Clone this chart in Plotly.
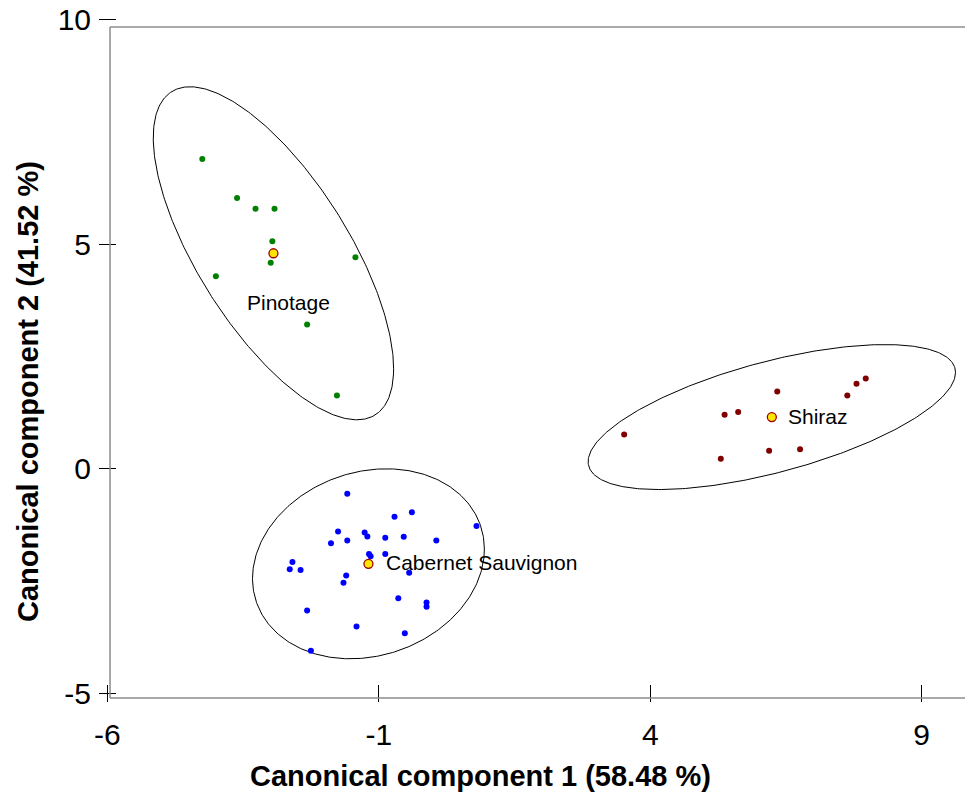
import numpy as np
import plotly.graph_objects as go

# ---------------- data ----------------
pinotage_x = [-4.25, -3.61, -3.27, -2.92, -2.96, -2.99, -4.00, -1.43, -2.32, -1.77]
pinotage_y = [6.90, 6.03, 5.79, 5.79, 5.07, 4.59, 4.29, 4.71, 3.21, 1.63]

shiraz_x = [3.52, 5.30, 5.37, 5.62, 6.34, 6.19, 6.76, 7.63, 7.80, 7.97]
shiraz_y = [0.76, 0.22, 1.20, 1.26, 1.72, 0.40, 0.43, 1.63, 1.89, 2.01]

cabernet_x = [-1.58, -0.39, -0.71, 0.80, -1.75, -1.26, -1.21, -1.58, -1.88, -0.88,
              -0.54, 0.06, -1.18, -1.15, -0.88, -2.59, -2.64, -2.44, -0.44, -1.60,
              -1.65, -0.64, -0.12, -0.12, -2.32, -1.41, -0.52, -2.25]
cabernet_y = [-0.56, -0.97, -1.07, -1.28, -1.40, -1.42, -1.51, -1.60, -1.66, -1.54,
              -1.52, -1.60, -1.90, -1.95, -1.90, -2.08, -2.24, -2.26, -2.32, -2.38,
              -2.54, -2.89, -2.98, -3.08, -3.16, -3.52, -3.67, -4.06]

group_names = ["Pinotage", "Shiraz", "Cabernet Sauvignon"]
centroid_x = [-2.94, 6.24, -1.19]
centroid_y = [4.80, 1.15, -2.12]
# ellipse shape matrices (sxx, syy, sxy) in data units
ellipse_sxx = [4.90, 11.45, 4.56]
ellipse_syy = [13.77, 2.61, 4.48]
ellipse_sxy = [-5.70, 3.36, 0.70]
label_x = [-2.66, 6.50, -0.91]
label_y = [3.70, 1.16, -2.09]
label_anchor = ["center", "left", "left"]

x_ticks = [-6, -1, 4, 9]
x_tick_text = ["-6", "-1", "4", "9"]
y_ticks = [-5, 0, 5, 10]
y_tick_text = ["-5", "0", "5", "10"]

x_title = "Canonical component 1 (58.48 %)"
y_title = "Canonical component 2 (41.52 %)"

FONT = "Liberation Sans, Arial, sans-serif"

W, H = 965, 794
ML, MR, MT, MB = 99, 0, 15, 92
PW, PH = W - ML - MR, H - MT - MB


def px_to_paper(px, py):
    return (px - ML) / PW, (H - MB - py) / PH


fig = go.Figure()

# ellipses
t = np.linspace(0, 2 * np.pi, 361)
for cx, cy, sxx, syy, sxy in zip(centroid_x, centroid_y, ellipse_sxx, ellipse_syy, ellipse_sxy):
    M = np.array([[sxx, sxy], [sxy, syy]])
    L = np.linalg.cholesky(M)
    pts = L @ np.vstack([np.cos(t), np.sin(t)])
    fig.add_trace(go.Scatter(x=cx + pts[0], y=cy + pts[1], mode="lines",
                             line=dict(color="black", width=1), showlegend=False,
                             hoverinfo="skip"))

# points
for xs, ys, col in [(pinotage_x, pinotage_y, "#008000"),
                    (shiraz_x, shiraz_y, "#800000"),
                    (cabernet_x, cabernet_y, "#0000FF")]:
    fig.add_trace(go.Scatter(x=xs, y=ys, mode="markers",
                             marker=dict(color=col, size=6, line=dict(width=0)),
                             showlegend=False))

# centroids
fig.add_trace(go.Scatter(x=centroid_x, y=centroid_y, mode="markers",
                         marker=dict(color="#FFE600", size=9,
                                     line=dict(color="#A00000", width=1.3)),
                         showlegend=False))

# group labels
for name, lx, ly, anc in zip(group_names, label_x, label_y, label_anchor):
    fig.add_annotation(x=lx, y=ly, text=name, showarrow=False, xanchor=anc,
                       yanchor="middle", font=dict(family=FONT, size=21, color="black"))

# axis titles
ax, ay = px_to_paper(480, 776)
fig.add_annotation(xref="paper", yref="paper", x=ax, y=ay, text=f"<b>{x_title}</b>",
                   showarrow=False, xanchor="center", yanchor="middle",
                   font=dict(family=FONT, size=29, color="black"))
bx, by = px_to_paper(28, 392)
fig.add_annotation(xref="paper", yref="paper", x=bx, y=by,
                   text=f"<b>{y_title}</b>", textangle=-90, showarrow=False,
                   xanchor="center", yanchor="middle",
                   font=dict(family=FONT, size=29, color="black"))

# frame lines (gray)
frame_col = "#8c8c8c"
fig.add_shape(type="line", xref="x", yref="y", x0=-5.95, x1=-5.95, y0=-5.11, y1=9.84,
              line=dict(color=frame_col, width=1.5))
fig.add_shape(type="line", xref="x", yref="y", x0=-5.95, x1=10.5, y0=-5.11, y1=-5.11,
              line=dict(color=frame_col, width=1.5))
fig.add_shape(type="line", xref="x", yref="y", x0=-5.95, x1=10.5, y0=9.84, y1=9.84,
              line=dict(color=frame_col, width=1.5))

fig.update_layout(
    width=W, height=H,
    margin=dict(l=ML, r=MR, t=MT, b=MB),
    paper_bgcolor="white", plot_bgcolor="white",
    font=dict(family=FONT, color="black"),
    xaxis=dict(range=[-6.153, 9.798], tickvals=x_ticks, ticktext=x_tick_text,
               ticks="inside", ticklen=17,
               tickwidth=1, tickcolor="black", showgrid=False, zeroline=False,
               showline=False, tickfont=dict(family=FONT, size=30, color="black"),
               ticklabelstandoff=12),
    yaxis=dict(range=[-5.20, 10.11], tickvals=y_ticks, ticktext=y_tick_text,
               ticks="inside", ticklen=17,
               tickwidth=1, tickcolor="black", showgrid=False, zeroline=False,
               showline=False, tickfont=dict(family=FONT, size=30, color="black"),
               ticklabelstandoff=7),
)

fig.write_html("out.html")
